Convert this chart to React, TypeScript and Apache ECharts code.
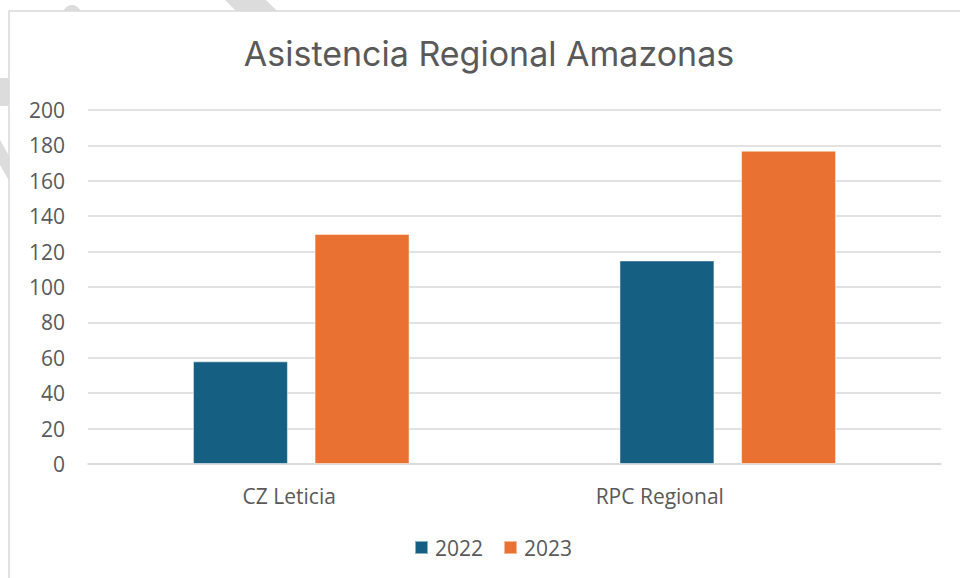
import React, { useEffect, useRef } from "react";
import * as echarts from "echarts";

const TITLE = "Asistencia Regional Amazonas";
const categories = ["CZ Leticia", "RPC Regional"];
const seriesNames = ["2022", "2023"];
const values2022 = [58, 115];
const values2023 = [130, 177];
const yTicks = { min: 0, max: 200, interval: 20 };

// style-only: horizontal shift of category labels (px, negative = left)
const labelShift = [-12, -68];
const COLORS = ["#156082", "#E97132"];
const TEXT = "#595959";
const FONT = "Open Sans";

export default function App() {
  const ref = useRef<HTMLDivElement>(null);
  useEffect(() => {
    if (!ref.current) return;
    const chart = echarts.init(ref.current, null, { renderer: "svg" });
    const wm = "#dcdcdc";
    chart.setOption({
      animation: false,
      backgroundColor: "#ffffff",
      textStyle: { fontFamily: FONT, color: TEXT },
      title: {
        text: TITLE,
        left: 484,
        textAlign: "center",
        top: 31,
        textStyle: { fontFamily: "Inter", fontSize: 34, fontWeight: "normal", color: TEXT },
      },
      graphic: [
        { type: "polygon", z: -30, shape: { points: [[225, 0], [266, 0], [290, 24], [249, 24]] }, style: { fill: wm } },
        { type: "circle", z: -30, shape: { cx: 72, cy: 14, r: 9 }, style: { fill: wm } },
        { type: "polygon", z: -30, shape: { points: [[0, 78], [8, 78], [14, 92], [8, 106], [0, 106]] }, style: { fill: wm } },
        { type: "polygon", z: -30, shape: { points: [[0, 140], [20, 175], [20, 200], [0, 165]] }, style: { fill: wm } },
        {
          type: "rect",
          z: -20,
          shape: { x: 9, y: 11, width: 1000, height: 700 },
          style: { fill: "#ffffff", stroke: "#d9d9d9", lineWidth: 1.5 },
        },
      ],
      legend: {
        data: seriesNames,
        left: 414,
        top: 537,
        padding: 0,
        itemWidth: 13,
        itemHeight: 13,
        itemGap: 20,
        icon: "rect",
        textStyle: { fontFamily: FONT, fontSize: 21, color: TEXT, padding: [0, 0, 0, 2] },
      },
      grid: { left: 88, right: 19, top: 110, bottom: 114, containLabel: false },
      xAxis: {
        type: "category",
        data: categories,
        axisLine: { show: true, lineStyle: { color: "#d9d9d9", width: 1.5 } },
        axisTick: { show: false },
        axisLabel: {
          margin: 21,
          fontFamily: FONT,
          fontSize: 21,
          color: TEXT,
          formatter: (v: string) => {
            const i = categories.indexOf(v);
            return `{c${i}|${v}}`;
          },
          rich: Object.fromEntries(
            labelShift.map((s, i) => [
              `c${i}`,
              {
                fontFamily: FONT,
                fontSize: 21,
                color: TEXT,
                padding: s < 0 ? [0, -2 * s, 0, 0] : [0, 0, 0, 2 * s],
              },
            ])
          ),
        },
      },
      yAxis: {
        type: "value",
        min: yTicks.min,
        max: yTicks.max,
        interval: yTicks.interval,
        axisLine: { show: false },
        axisTick: { show: false },
        axisLabel: { margin: 23, fontFamily: FONT, fontSize: 21, color: TEXT },
        splitLine: { lineStyle: { color: "#d9d9d9", width: 1.5 } },
      },
      series: [
        {
          name: seriesNames[0],
          type: "bar",
          data: values2022,
          barWidth: 95,
          barGap: "28%",
          itemStyle: { color: COLORS[0], borderColor: "rgba(255,255,255,0.5)", borderWidth: 1 },
        },
        {
          name: seriesNames[1],
          type: "bar",
          data: values2023,
          barWidth: 95,
          barGap: "28%",
          itemStyle: { color: COLORS[1], borderColor: "rgba(255,255,255,0.5)", borderWidth: 1 },
        },
      ],
    });
    return () => chart.dispose();
  }, []);
  return (
    <div
      ref={ref}
      style={{ position: "fixed", left: 0, top: 0, width: 960, height: 578 }}
    />
  );
}
